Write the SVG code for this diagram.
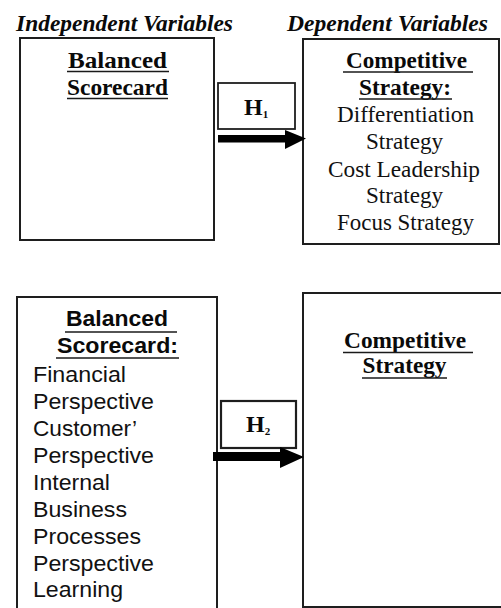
<svg xmlns="http://www.w3.org/2000/svg" width="501" height="608" viewBox="0 0 501 608">
  <style>
    .bg { fill: #ffffff; }
    .box { fill: #ffffff; stroke: #1e1e1e; stroke-width: 2; }
    .hbox { fill: #ffffff; stroke: #1e1e1e; stroke-width: 1.8; }
    .hdr { font-family: "Liberation Serif", "Times New Roman", serif; font-weight: bold; font-style: italic; font-size: 23px; fill: #0a0a0a; }
    .title { font-family: "Liberation Serif", "Times New Roman", serif; font-weight: bold; font-size: 23px; fill: #0a0a0a; text-anchor: middle; }
    .item { font-family: "Liberation Serif", "Times New Roman", serif; font-size: 23px; fill: #111111; text-anchor: middle; }
    .stitle { font-family: "Liberation Sans", Arial, sans-serif; font-weight: bold; font-size: 22px; fill: #0a0a0a; text-anchor: middle; }
    .sitem { font-family: "Liberation Sans", Arial, sans-serif; font-size: 22px; fill: #111111; }
    .hyp { font-family: "Liberation Serif", "Times New Roman", serif; font-weight: bold; font-size: 24px; fill: #0a0a0a; }
    .sub { font-size: 11px; }
    .ul { stroke: #1a1a1a; stroke-width: 1.6; }
    .arrow { fill: #000000; }
  </style>

  <rect class="bg" x="0" y="0" width="501" height="608"/>

  <!-- column headings -->
  <g id="headings">
    <text class="hdr" x="16" y="31" textLength="217" lengthAdjust="spacingAndGlyphs">Independent Variables</text>
    <text class="hdr" x="287" y="31" textLength="201" lengthAdjust="spacingAndGlyphs">Dependent Variables</text>
  </g>

  <!-- model 1: balanced scorecard -> competitive strategy -->
  <g id="bsc1">
    <rect class="box" x="20" y="38" width="194" height="202"/>
    <text class="title" x="117.5" y="68" textLength="99" lengthAdjust="spacingAndGlyphs">Balanced</text>
    <line class="ul" x1="67" y1="71.5" x2="169" y2="71.5"/>
    <text class="title" x="117.5" y="95" textLength="101" lengthAdjust="spacingAndGlyphs">Scorecard</text>
    <line class="ul" x1="67" y1="98.5" x2="168" y2="98.5"/>
  </g>

  <g id="cs1">
    <rect class="box" x="303" y="39" width="196" height="205"/>
    <text class="title" x="406.5" y="68" textLength="121" lengthAdjust="spacingAndGlyphs">Competitive</text>
    <line class="ul" x1="343" y1="72" x2="473" y2="72"/>
    <text class="title" x="405" y="95" textLength="92" lengthAdjust="spacingAndGlyphs">Strategy:</text>
    <line class="ul" x1="359" y1="99" x2="452" y2="99"/>
    <text class="item" x="405.5" y="122" textLength="137" lengthAdjust="spacingAndGlyphs">Differentiation</text>
    <text class="item" x="404.5" y="149" textLength="77" lengthAdjust="spacingAndGlyphs">Strategy</text>
    <text class="item" x="404" y="177" textLength="152" lengthAdjust="spacingAndGlyphs">Cost Leadership</text>
    <text class="item" x="404.5" y="203" textLength="77" lengthAdjust="spacingAndGlyphs">Strategy</text>
    <text class="item" x="405.5" y="230" textLength="137" lengthAdjust="spacingAndGlyphs">Focus Strategy</text>
  </g>

  <g id="h1">
    <rect class="hbox" x="218" y="83" width="77" height="46"/>
    <text class="hyp" x="244" y="115">H<tspan class="sub" dy="3">1</tspan></text>
  </g>

  <!-- model 2: scorecard perspectives -> competitive strategy -->
  <g id="bsc2">
    <rect class="box" x="17" y="297" width="200" height="320"/>
    <text class="stitle" x="117" y="326" textLength="102" lengthAdjust="spacingAndGlyphs">Balanced</text>
    <line class="ul" x1="65" y1="332" x2="177" y2="332"/>
    <text class="stitle" x="117.5" y="353" textLength="121" lengthAdjust="spacingAndGlyphs">Scorecard:</text>
    <line class="ul" x1="56" y1="358" x2="179" y2="358"/>
    <text class="sitem" x="33" y="382" textLength="93" lengthAdjust="spacingAndGlyphs">Financial</text>
    <text class="sitem" x="33" y="409" textLength="121" lengthAdjust="spacingAndGlyphs">Perspective</text>
    <text class="sitem" x="33" y="436" textLength="104" lengthAdjust="spacingAndGlyphs">Customer’</text>
    <text class="sitem" x="33" y="463" textLength="121" lengthAdjust="spacingAndGlyphs">Perspective</text>
    <text class="sitem" x="33" y="490" textLength="77" lengthAdjust="spacingAndGlyphs">Internal</text>
    <text class="sitem" x="33" y="517" textLength="94" lengthAdjust="spacingAndGlyphs">Business</text>
    <text class="sitem" x="33" y="544" textLength="108" lengthAdjust="spacingAndGlyphs">Processes</text>
    <text class="sitem" x="33" y="571" textLength="121" lengthAdjust="spacingAndGlyphs">Perspective</text>
    <text class="sitem" x="33" y="597" textLength="90" lengthAdjust="spacingAndGlyphs">Learning</text>
  </g>

  <g id="cs2">
    <rect class="box" x="303" y="293" width="220" height="314"/>
    <text class="title" x="405" y="348" textLength="122" lengthAdjust="spacingAndGlyphs">Competitive</text>
    <line class="ul" x1="343" y1="352.5" x2="473" y2="352.5"/>
    <text class="title" x="404.5" y="373" textLength="84" lengthAdjust="spacingAndGlyphs">Strategy</text>
    <line class="ul" x1="362" y1="378" x2="447" y2="378"/>
  </g>

  <g id="h2">
    <rect class="hbox" x="221" y="401" width="75" height="47" style="stroke-width: 2.2"/>
    <text class="hyp" x="246" y="432">H<tspan class="sub" dy="3">2</tspan></text>
  </g>

  <!-- hypothesis arrows -->
  <g id="connectors">
    <polygon class="arrow" points="218,135 285,135 285,130 306,138.5 285,149 285,142.5 218,142.5"/>
    <polygon class="arrow" points="213,452 280,452 280,447 304,457 280,468 280,461 213,461"/>
  </g>
</svg>
